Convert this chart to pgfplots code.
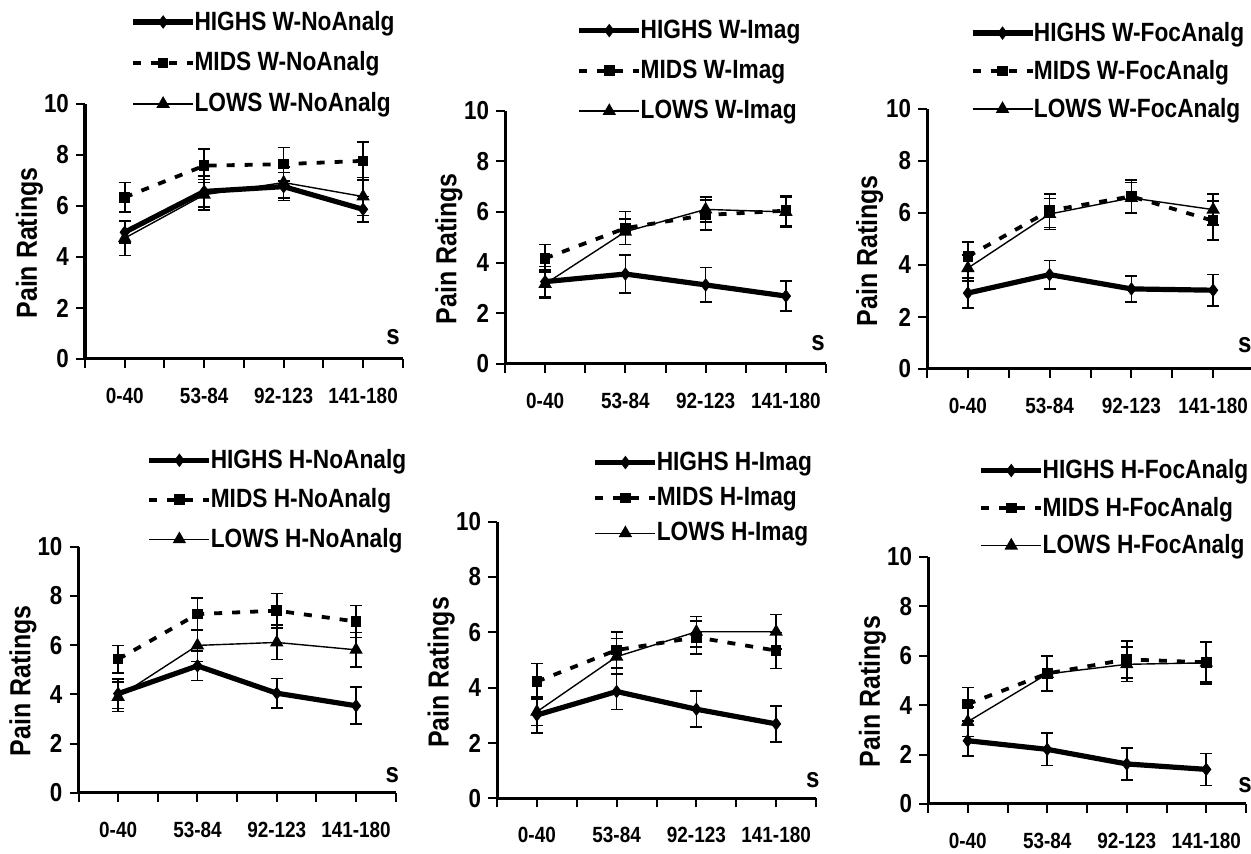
\documentclass[border=0pt]{standalone}
\usepackage{fontspec}
\setmainfont{Liberation Sans}[FakeStretch=0.86]
\usepackage{pgfplots}
\pgfplotsset{compat=1.18}

\tikzset{sfont/.style={font=\bfseries\fontsize{14}{15}\selectfont}}
\pgfplotsset{
  highs/.style={black, solid, line width=2.6pt, mark=diamond*, mark size=3pt,
    mark options={solid, line width=0.5pt, fill=black}},
  mids/.style={black, line width=1.9pt, dash pattern=on 4pt off 5pt, mark=square*, mark size=2.4pt,
    mark options={solid, line width=0.5pt, fill=black}},
  lows/.style={black, solid, line width=0.7pt, mark=triangle*, mark size=3.2pt,
    mark options={solid, fill=black}},
  ebars/.style={error bars/y dir=both, error bars/y explicit,
    error bars/error bar style={solid, line width=0.8pt, black},
    error bars/error mark options={rotate=90, mark size=3pt, line width=0.8pt, black, solid}},
  panel/.style={
    scale only axis, anchor=south west, clip=false,
    xmin=-0.5, xmax=3.5, ymin=0, ymax=10,
    axis x line*=bottom, axis y line*=left,
    axis line style={line width=1.5pt, black},
    xtick={0,1,2,3}, xticklabels={0-40,53-84,92-123,141-180},
    minor xtick={-0.5,0.5,1.5,2.5,3.5},
    ytick={0,2,4,6,8,10},
    tick align=outside, major tick length=4.5pt, minor tick length=4.5pt,
    every tick/.style={line width=1pt, black},
    /pgf/number format/assume math mode=true,
    xticklabel style={font=\bfseries\fontsize{11}{12}\selectfont, yshift=-6.5pt},
    yticklabel style={font=\bfseries\fontsize{13}{14}\selectfont},
    ylabel={Pain Ratings},
    ylabel style={font=\bfseries\fontsize{14.5}{15}\selectfont, at={(rel axis cs:-0.175,0.455)}, anchor=center},
    legend cell align=left,
    legend image code/.code={\draw[mark repeat=2,mark phase=2,##1] plot coordinates {(0pt,0pt) (15pt,0pt) (30pt,0pt)};},
    legend style={draw=none, fill=none, anchor=west, inner sep=0pt,
      font=\bfseries\fontsize{13.2}{14}\selectfont, row sep=4pt,
      nodes={inner sep=1pt},
      /tikz/every odd column/.append style={column sep=-1.6pt}},
  },
}

\begin{document}
\begin{tikzpicture}
\useasboundingbox (0,0) rectangle (625.5pt,427pt);

% top left
\begin{axis}[panel, at={(42.5pt,247.5pt)}, width=158.9pt, height=127.5pt,
  legend style={at={(rel axis cs:0.142,1.161)}, row sep=7.4pt}]
\addplot[highs, ebars] coordinates {(0,4.97) +- (0,0.42) (1,6.57) +- (0,0.6) (2,6.76) +- (0,0.55) (3,5.87) +- (0,0.5)};
\addplot[mids, ebars] coordinates {(0,6.34) +- (0,0.58) (1,7.58) +- (0,0.66) (2,7.64) +- (0,0.66) (3,7.77) +- (0,0.75)};
\addplot[lows, ebars] coordinates {(0,4.74) +- (0,0.68) (1,6.44) +- (0,0.6) (2,6.92) +- (0,0.6) (3,6.37) +- (0,0.75)};
\legend{HIGHS W-NoAnalg, MIDS W-NoAnalg, LOWS W-NoAnalg}
\node[sfont] at (rel axis cs:0.969,0.086) {s};
\end{axis}

% top middle
\begin{axis}[panel, at={(252.5pt,245pt)}, width=160.5pt, height=126.7pt,
  legend style={at={(rel axis cs:0.222,1.157)}, row sep=7.4pt}]
\addplot[highs, ebars] coordinates {(0,3.25) +- (0,0.6) (1,3.55) +- (0,0.74) (2,3.12) +- (0,0.68) (3,2.68) +- (0,0.6)};
\addplot[mids, ebars] coordinates {(0,4.17) +- (0,0.55) (1,5.36) +- (0,0.65) (2,5.88) +- (0,0.6) (3,6.05) +- (0,0.6)};
\addplot[lows, ebars] coordinates {(0,3.16) +- (0,0.55) (1,5.22) +- (0,0.5) (2,6.1) +- (0,0.5) (3,6.0) +- (0,0.6)};
\legend{HIGHS W-Imag, MIDS W-Imag, LOWS W-Imag}
\node[sfont] at (rel axis cs:0.975,0.083) {s};
\end{axis}

% top right
\begin{axis}[panel, at={(463.5pt,242.5pt)}, width=163.5pt, height=130pt,
  legend style={at={(rel axis cs:0.13,1.146)}, row sep=5.9pt}]
\addplot[highs, ebars] coordinates {(0,2.92) +- (0,0.57) (1,3.63) +- (0,0.55) (2,3.08) +- (0,0.5) (3,3.03) +- (0,0.6)};
\addplot[mids, ebars] coordinates {(0,4.33) +- (0,0.55) (1,6.09) +- (0,0.65) (2,6.64) +- (0,0.62) (3,5.7) +- (0,0.75)};
\addplot[lows, ebars] coordinates {(0,3.88) +- (0,0.5) (1,5.96) +- (0,0.6) (2,6.58) +- (0,0.6) (3,6.13) +- (0,0.6)};
\legend{HIGHS W-FocAnalg, MIDS W-FocAnalg, LOWS W-FocAnalg}
\node[sfont] at (rel axis cs:0.972,0.092) {s};
\end{axis}

% bottom left
\begin{axis}[panel, at={(39.25pt,30.5pt)}, width=158.6pt, height=123.2pt,
  legend style={at={(rel axis cs:0.214,1.19)}, row sep=6.7pt}]
\addplot[highs, ebars] coordinates {(0,4.03) +- (0,0.6) (1,5.16) +- (0,0.6) (2,4.05) +- (0,0.6) (3,3.54) +- (0,0.75)};
\addplot[mids, ebars] coordinates {(0,5.43) +- (0,0.55) (1,7.26) +- (0,0.65) (2,7.4) +- (0,0.7) (3,6.96) +- (0,0.65)};
\addplot[lows, ebars] coordinates {(0,3.9) +- (0,0.6) (1,5.99) +- (0,0.65) (2,6.11) +- (0,0.7) (3,5.81) +- (0,0.7)};
\legend{HIGHS H-NoAnalg, MIDS H-NoAnalg, LOWS H-NoAnalg}
\node[sfont] at (rel axis cs:0.989,0.073) {s};
\end{axis}

% bottom middle
\begin{axis}[panel, at={(248.5pt,27.85pt)}, width=159.5pt, height=138.3pt,
  legend style={at={(rel axis cs:0.299,1.086)}, row sep=4.95pt}]
\addplot[highs, ebars] coordinates {(0,3.01) +- (0,0.65) (1,3.86) +- (0,0.65) (2,3.22) +- (0,0.65) (3,2.69) +- (0,0.65)};
\addplot[mids, ebars] coordinates {(0,4.22) +- (0,0.65) (1,5.36) +- (0,0.65) (2,5.82) +- (0,0.6) (3,5.34) +- (0,0.65)};
\addplot[lows, ebars] coordinates {(0,3.13) +- (0,0.5) (1,5.12) +- (0,0.65) (2,6.02) +- (0,0.55) (3,6.02) +- (0,0.63)};
\legend{HIGHS H-Imag, MIDS H-Imag, LOWS H-Imag}
\node[sfont] at (rel axis cs:0.99,0.065) {s};
\end{axis}

% bottom right
\begin{axis}[panel, at={(464pt,25pt)}, width=159pt, height=123.6pt,
  legend style={at={(rel axis cs:0.158,1.197)}, row sep=5.7pt}]
\addplot[highs, ebars] coordinates {(0,2.56) +- (0,0.62) (1,2.21) +- (0,0.65) (2,1.62) +- (0,0.65) (3,1.4) +- (0,0.65)};
\addplot[mids, ebars] coordinates {(0,4.04) +- (0,0.68) (1,5.28) +- (0,0.7) (2,5.85) +- (0,0.75) (3,5.73) +- (0,0.8)};
\addplot[lows, ebars] coordinates {(0,3.33) +- (0,0.6) (1,5.26) +- (0,0.7) (2,5.65) +- (0,0.7) (3,5.71) +- (0,0.85)};
\legend{HIGHS H-FocAnalg, MIDS H-FocAnalg, LOWS H-FocAnalg}
\node[sfont] at (rel axis cs:0.997,0.077) {s};
\end{axis}
\end{tikzpicture}
\end{document}
